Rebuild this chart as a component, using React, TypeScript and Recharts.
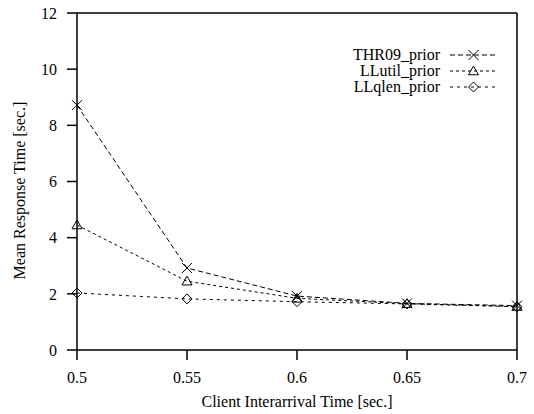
import React from 'react';
import { LineChart, Line, XAxis, YAxis, ReferenceLine } from 'recharts';

const arrivalTimes = [0.5, 0.55, 0.6, 0.65, 0.7];
const thr09Prior = [8.72, 2.92, 1.92, 1.66, 1.58];
const llutilPrior = [4.45, 2.45, 1.84, 1.65, 1.55];
const llqlenPrior = [2.03, 1.82, 1.72, 1.64, 1.54];
const xTicks = [0.5, 0.55, 0.6, 0.65, 0.7];
const yTicks = [0, 2, 4, 6, 8, 10, 12];

const data = arrivalTimes.map((t, i) => ({
  t,
  thr: thr09Prior[i],
  util: llutilPrior[i],
  qlen: llqlenPrior[i],
}));

const FONT = '"Liberation Serif", "DejaVu Serif", serif';
const FS = 16;

const CrossMark = ({ cx, cy, r = 5 }: any) => (
  <g>
    <line x1={cx - r} y1={cy - r} x2={cx + r} y2={cy + r} stroke="#000" strokeWidth={1} />
    <line x1={cx - r} y1={cy + r} x2={cx + r} y2={cy - r} stroke="#000" strokeWidth={1} />
  </g>
);
const TriMark = ({ cx, cy, r = 5 }: any) => (
  <polygon
    points={`${cx},${cy - r} ${cx - r},${cy + r * 0.75} ${cx + r},${cy + r * 0.75}`}
    fill="none"
    stroke="#000"
    strokeWidth={1}
  />
);
const DiaMark = ({ cx, cy, r = 5 }: any) => (
  <polygon
    points={`${cx},${cy - r} ${cx + r},${cy} ${cx},${cy + r} ${cx - r},${cy}`}
    fill="none"
    stroke="#000"
    strokeWidth={1}
  />
);

const series = [
  { key: 'thr', name: 'THR09_prior', dash: '5 3', Mark: CrossMark },
  { key: 'util', name: 'LLutil_prior', dash: '3 3', Mark: TriMark },
  { key: 'qlen', name: 'LLqlen_prior', dash: '3 4', Mark: DiaMark },
];

const LegendBox = () => (
  <div style={{ position: 'absolute', top: 47, left: 277, width: 220, fontFamily: FONT, fontSize: FS, color: '#000' }}>
    {series.map((s) => (
      <div key={s.key} style={{ display: 'flex', alignItems: 'center', justifyContent: 'flex-end', height: 16 }}>
        <span style={{ lineHeight: '16px', whiteSpace: 'nowrap' }}>{s.name}</span>
        <svg width={47} height={16} style={{ marginLeft: 10, display: 'block' }}>
          <line x1={0} y1={8} x2={47} y2={8} stroke="#000" strokeWidth={1} strokeDasharray={s.dash} />
          <s.Mark cx={23.5} cy={8} />
        </svg>
      </div>
    ))}
  </div>
);

const YLabel = (props: any) => {
  const vb = props.viewBox || {};
  const x = vb.x + 2;
  const y = vb.y + vb.height / 2 + 9;
  return (
    <text
      x={x}
      y={y}
      transform={`rotate(-90, ${x}, ${y})`}
      textAnchor="middle"
      dy="0.355em"
      fontFamily={FONT}
      fontSize={FS}
      fill="#000"
    >
      Mean Response Time [sec.]
    </text>
  );
};

export default function App() {
  const tickStyle = { fontFamily: FONT, fontSize: FS, fill: '#000' };
  const lineStyle = { stroke: '#000', strokeWidth: 1.5 };
  return (
    <div style={{ position: 'absolute', left: 0, top: 0, width: 534, height: 414, background: '#fff' }}>
      <LineChart width={534} height={414} data={data} margin={{ top: 13, right: 17, left: 17, bottom: 2 }}>
        <XAxis
          dataKey="t"
          type="number"
          domain={[0.5, 0.7]}
          ticks={xTicks}
          tickSize={10}
          tickMargin={12}
          height={62}
          axisLine={lineStyle}
          tickLine={lineStyle}
          tick={tickStyle}
          tickFormatter={(v: number) => String(v)}
          label={{ value: 'Client Interarrival Time [sec.]', position: 'insideBottom', offset: 5, style: { fontFamily: FONT, fontSize: FS, fill: '#000' } }}
        />
        <YAxis
          type="number"
          domain={[0, 12]}
          ticks={yTicks}
          tickSize={10}
          tickMargin={10}
          width={60}
          axisLine={lineStyle}
          tickLine={lineStyle}
          tick={tickStyle}
          label={<YLabel />}
        />
        <ReferenceLine y={12} stroke="#000" strokeWidth={1.5} />
        <ReferenceLine x={0.7} stroke="#000" strokeWidth={1.5} />
        {series.map((s) => (
          <Line
            key={s.key}
            dataKey={s.key}
            name={s.name}
            stroke="#000"
            strokeWidth={1}
            strokeDasharray={s.dash}
            isAnimationActive={false}
            dot={(p: any) => <s.Mark key={`${s.key}-${p.index}`} cx={p.cx} cy={p.cy} />}
            activeDot={false}
          />
        ))}
      </LineChart>
      <LegendBox />
    </div>
  );
}
